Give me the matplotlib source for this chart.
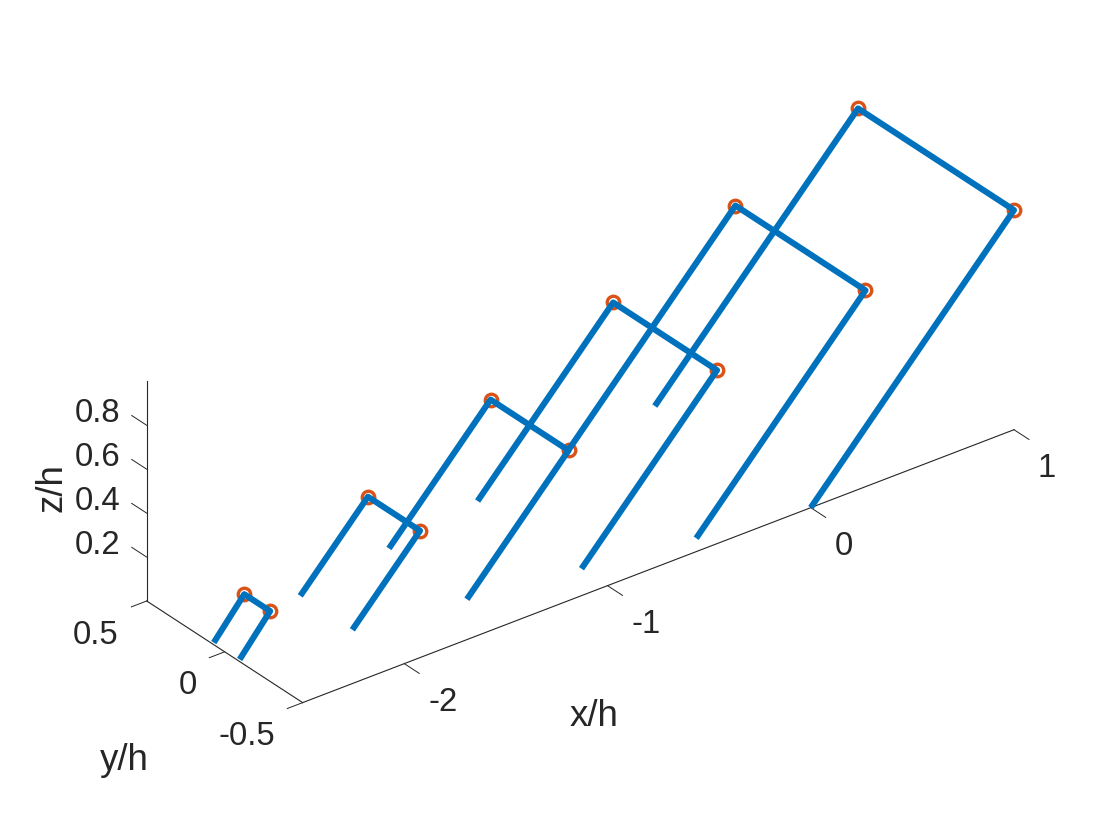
import matplotlib
matplotlib.use("Agg")
import matplotlib.pyplot as plt
from mpl_toolkits.mplot3d import proj3d

# --- data ---------------------------------------------------------------
x_top = [1.0, 0.333, -0.333, -1.0, -1.667, -2.34]
z_top = [1.0, 0.833, 0.667, 0.5, 0.333, 0.167]
half_span = [0.5, 0.417, 0.333, 0.25, 0.167, 0.083]
x_base = [0.0, -0.5, -1.0, -1.5, -2.0, -2.49]
x_ticks = [-2, -1, 0, 1]
y_ticks = [-0.5, 0, 0.5]
z_ticks = [0.2, 0.4, 0.6, 0.8]
x_tick_labels = ["-2", "-1", "0", "1"]
y_tick_labels = ["-0.5", "0", "0.5"]
z_tick_labels = ["0.2", "0.4", "0.6", "0.8"]

BLUE = "#0072BD"
ORANGE = "#D95319"
INK = "#262626"
W, H = 1120, 840
BOX = (3.5, 1, 0.99)

plt.rcParams["font.family"] = ["Liberation Sans", "DejaVu Sans"]
fig = plt.figure(figsize=(W / 100, H / 100), dpi=100, facecolor="white")
ax = fig.add_axes([0, 0, 1, 1], projection="3d", proj_type="ortho")
ax.computed_zorder = False
ax.patch.set_alpha(0)
ax.view_init(elev=30, azim=-127.5)
ax.set_xlim(-2.5, 1, view_margin=0)
ax.set_ylim(-0.5, 0.5, view_margin=0)
ax.set_zlim(0, 1, view_margin=0)
ax.set_box_aspect(BOX)
ax.grid(False)

for xb, xt, zt, s in zip(x_base, x_top, z_top, half_span):
    ax.plot([xb, xt, xt, xb], [s, s, -s, -s], [0, zt, zt, 0], color=BLUE, lw=4.4,
            solid_capstyle="butt", solid_joinstyle="round", zorder=3, clip_on=False)
    ax.plot([xt, xt], [s, -s], [zt, zt], ls="none", marker="o", ms=9, mew=2.4,
            mfc="none", mec=ORANGE, zorder=2, clip_on=False)

ax.set_xticks(x_ticks, x_tick_labels)
ax.set_yticks(y_ticks, y_tick_labels)
ax.set_zticks(z_ticks, z_tick_labels)
ax.set_xlabel("x/h", fontsize=26.4, color=INK)
ax.set_ylabel("y/h", fontsize=26.4, color=INK)
ax.set_zlabel("z/h", fontsize=26.4, color=INK, rotation=90)
ax.zaxis.set_rotate_label(False)

ax.zaxis._get_tickdir = lambda pos: 1
for axis, out_f, in_f in ((ax.xaxis, 0, 1.2), (ax.yaxis, 0, 0.27), (ax.zaxis, 1.2, 0)):
    axis.pane.set_visible(False)
    info = axis._axinfo
    info["tick"]["outward_factor"] = out_f
    info["tick"]["inward_factor"] = in_f
    info["tick"]["linewidth"] = {True: 0.7, False: 0.7}
    info["axisline"]["color"] = INK
    info["axisline"]["linewidth"] = 0.8
    info["label"]["ha"] = "center"
    info["label"]["va"] = "center"
    axis.line.set_color(INK)
    axis.line.set_linewidth(0.8)
ax.tick_params(colors=INK, labelsize=23.7, width=0.7)


def px(p):
    X, Y, _ = proj3d.proj_transform(*p, ax.get_proj())
    return ax.transData.transform((X, Y))


# layout: fit the box so that its corners land where the reference has them
corner_a, corner_b = (-2.5, 0.5, 0), (1, -0.5, 0)
target_a, target_b = (146.7, H - 601.0), (1014.0, H - 430.0)
zoom = 1.0
for _ in range(3):
    fig.canvas.draw()
    a, b = px(corner_a), px(corner_b)
    zoom *= (target_b[0] - target_a[0]) / (b[0] - a[0])
    ax.set_box_aspect(BOX, zoom=zoom)
    fig.canvas.draw()
    a = px(corner_a)
    p = ax.get_position()
    ax.set_position([p.x0 + (target_a[0] - a[0]) / W, p.y0 + (target_a[1] - a[1]) / H, p.width, p.height])
fig.canvas.draw()


def pin(text, x, y, **kw):
    """Hold a text at a pixel position (mplot3d would otherwise re-place it)."""
    dx, dy = ax.transData.inverted().transform((x, y))
    text.set_position((dx, dy))
    text.set(**kw)
    text.set_position = lambda xy: None
    text.set_x = lambda v: None
    text.set_y = lambda v: None


offs = {"x": (24, -38.5, "left"), "y": (-28, -34, "right"), "z": (-26, 11.5, "right")}
for axis, locs, pt, key in (
    (ax.xaxis, x_ticks, lambda v: (v, -0.5, 0), "x"),
    (ax.yaxis, y_ticks, lambda v: (-2.5, v, 0), "y"),
    (ax.zaxis, z_ticks, lambda v: (-2.5, 0.5, v), "z"),
):
    dx, dy, ha = offs[key]
    for tick, v in zip(axis.get_major_ticks(len(locs)), locs):
        q = px(pt(v))
        pin(tick.label1, q[0] + dx, q[1] + dy, ha=ha, va="center")

pin(ax.xaxis.label, 594, H - 716)
pin(ax.yaxis.label, 124, H - 760)
pin(ax.zaxis.label, 52, H - 488)

fig.savefig("out.png", dpi=100, facecolor="white")
